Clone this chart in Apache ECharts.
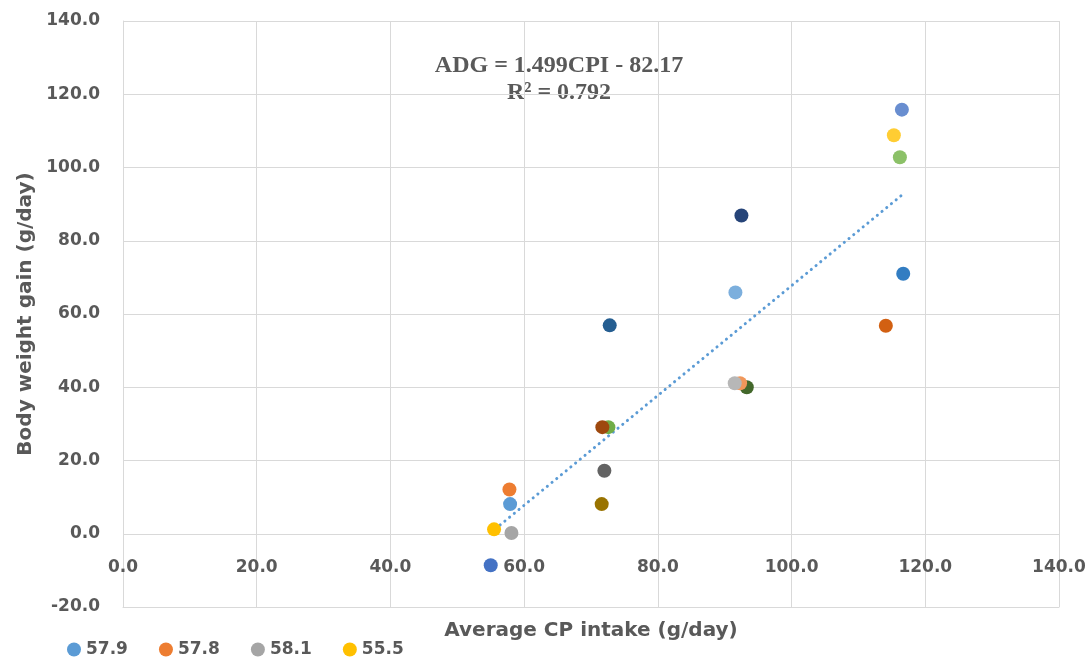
<!DOCTYPE html>
<html>
<head>
<meta charset="utf-8">
<script src="https://cdn.jsdelivr.net/npm/echarts@6/dist/echarts.min.js"></script>
<style>
  html, body { margin: 0; padding: 0; background: #ffffff; }
  #chart { width: 1089px; height: 657px; }
</style>
</head>
<body>
<div id="chart"></div>
<script>
// ---- data ----
const seriesNames = ["57.9", "57.8", "58.1", "55.5", "55.0", "72.6", "72.8", "71.7", "72.0", "71.6",
                     "92.5", "93.3", "91.6", "92.3", "91.5", "115.3", "116.5", "116.2", "116.7", "114.1"];
const cpIntake = [57.9, 57.8, 58.1, 55.5, 55.0, 72.6, 72.8, 71.7, 72.0, 71.6,
                  92.5, 93.3, 91.6, 92.3, 91.5, 115.3, 116.5, 116.2, 116.7, 114.1];
const weightGain = [8.1, 12.1, 0.2, 1.2, -8.6, 29.1, 56.9, 29.1, 17.2, 8.1,
                    86.9, 40.0, 65.9, 41.1, 41.1, 108.8, 115.8, 102.8, 71.0, 56.8];
const seriesColors = ["#5B9BD5", "#ED7D31", "#A5A5A5", "#FFC000", "#4472C4", "#70AD47", "#255E91", "#9E480E",
                      "#636363", "#997300", "#264478", "#43682B", "#7CAFDD", "#F1975A", "#B7B7B7", "#FFCD33",
                      "#698ED0", "#8CC168", "#327DC2", "#D26012"];
const legendNames = ["57.9", "57.8", "58.1", "55.5"];
const trendSlope = 1.499;
const trendIntercept = -82.17;
const equationLines = ["ADG = 1.499CPI - 82.17", "R\u00B2 = 0.792"];
const xTicks = { min: 0, max: 140, interval: 20 };
const yTicks = { min: -20, max: 140, interval: 20 };

// ---- build chart ----
const chart = echarts.init(document.getElementById('chart'), null, { renderer: 'canvas' });
const gray = '#595959';
const gridColor = '#D9D9D9';
const labelFont = { fontFamily: 'DejaVu Sans', fontWeight: 'bold', fontSize: 17, color: gray };

const scatterSeries = cpIntake.map((x, i) => ({
  name: seriesNames[i],
  type: 'scatter',
  symbol: 'circle',
  symbolSize: 14,
  itemStyle: { color: seriesColors[i], opacity: 1 },
  data: [[x, weightGain[i]]],
  z: 3 + i * 0.01
}));

const xMin = Math.min(...cpIntake);
const xMax = Math.max(...cpIntake);
const trendSeries = {
  name: 'trend',
  type: 'line',
  data: [[xMin, trendSlope * xMin + trendIntercept], [xMax, trendSlope * xMax + trendIntercept]],
  symbol: 'none',
  lineStyle: { color: '#5B9BD5', width: 3, type: [0.1, 6], cap: 'round' },
  z: 2,
  silent: true
};

chart.setOption({
  backgroundColor: '#ffffff',
  animation: false,
  grid: { left: 123, right: 30, top: 21, bottom: 50, containLabel: false, outerBoundsMode: 'none' },
  legend: {
    data: legendNames,
    left: 62,
    top: 636,
    icon: 'circle',
    itemWidth: 14,
    itemHeight: 14,
    itemGap: 31,
    textStyle: { fontFamily: 'DejaVu Sans', fontWeight: 'bold', fontSize: 17, color: gray },
    selectedMode: false
  },
  xAxis: {
    type: 'value',
    min: xTicks.min, max: xTicks.max, interval: xTicks.interval,
    name: 'Average CP intake (g/day)',
    nameLocation: 'middle',
    nameGap: 14,
    nameTextStyle: { fontFamily: 'DejaVu Sans', fontWeight: 'bold', fontSize: 20, color: gray },
    axisLine: { show: true, onZero: false, lineStyle: { color: gridColor, width: 1 } },
    axisTick: { show: false },
    axisLabel: Object.assign({ margin: -48, formatter: v => v.toFixed(1) }, labelFont),
    splitLine: { show: true, lineStyle: { color: gridColor, width: 1 } }
  },
  yAxis: {
    type: 'value',
    min: yTicks.min, max: yTicks.max, interval: yTicks.interval,
    name: 'Body weight gain (g/day)',
    nameLocation: 'middle',
    nameGap: 86,
    nameTextStyle: { fontFamily: 'DejaVu Sans', fontWeight: 'bold', fontSize: 20, color: gray },
    axisLine: { show: true, onZero: false, lineStyle: { color: gridColor, width: 1 } },
    axisTick: { show: false },
    axisLabel: Object.assign({ margin: 23, formatter: v => v.toFixed(1) }, labelFont),
    splitLine: { show: true, lineStyle: { color: gridColor, width: 1 } }
  },
  graphic: equationLines.map((t, i) => ({
    type: 'text',
    x: 559,
    y: 66 + i * 27,
    style: {
      text: t,
      fontFamily: 'Liberation Serif',
      fontWeight: 'bold',
      fontSize: 24,
      fill: gray,
      align: 'center',
      verticalAlign: 'middle'
    }
  })),
  series: [trendSeries].concat(scatterSeries)
});
</script>
</body>
</html>
